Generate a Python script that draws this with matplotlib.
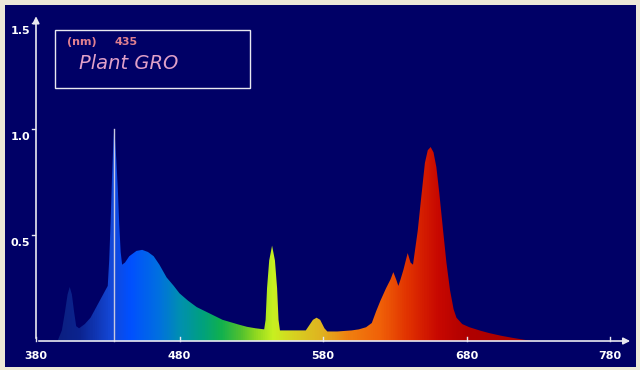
import numpy as np
import matplotlib.pyplot as plt
from matplotlib.colors import LinearSegmentedColormap

# spectrum (wavelength nm, relative intensity)
wavelength = [395, 398, 400, 402, 403.5, 405, 406.5, 408, 410, 414, 418, 422, 426, 430,
              431, 432, 433, 434, 434.5, 435, 436, 437, 438, 439, 440, 442, 445, 450, 454, 458, 462,
              466, 471, 476, 480, 486, 492, 498, 504, 510, 515, 521, 527, 533, 539,
              540, 541, 542.5, 544.5, 546.5, 548, 549, 550, 555, 560, 568, 570, 573,
              575.5, 578, 581, 583, 590, 600, 605, 610, 614, 617, 620, 624, 627, 629,
              631, 632.5, 634, 636, 639, 641, 642.7, 646, 648, 651, 653, 655, 657, 659,
              661, 663.7, 666, 668.5, 671, 673, 677, 682, 690, 696, 704, 712, 720, 726]
intensity = [0, 0.05, 0.13, 0.22, 0.255, 0.22, 0.14, 0.07, 0.06, 0.08, 0.11, 0.16, 0.21, 0.26,
             0.38, 0.56, 0.78, 0.95, 1.0, 0.96, 0.85, 0.72, 0.55, 0.42, 0.36, 0.37, 0.40, 0.425,
             0.43, 0.42, 0.40,
             0.36, 0.30, 0.26, 0.225, 0.19, 0.16, 0.14, 0.12, 0.10, 0.09, 0.078, 0.067, 0.06, 0.055,
             0.10, 0.25, 0.38, 0.45, 0.38, 0.25, 0.10, 0.05, 0.05, 0.05, 0.05, 0.07, 0.10,
             0.11, 0.10, 0.06, 0.045, 0.045, 0.05, 0.055, 0.065, 0.085, 0.14, 0.19, 0.25, 0.29, 0.325,
             0.29, 0.26, 0.29, 0.335, 0.415, 0.37, 0.36, 0.52, 0.65, 0.84, 0.90, 0.915, 0.89, 0.82,
             0.70, 0.52, 0.37, 0.24, 0.15, 0.11, 0.08, 0.065, 0.048, 0.037, 0.025, 0.015, 0.006, 0]

x_ticks = [380, 480, 580, 680, 780]
y_ticks = [0.5, 1.0, 1.5]
y_tick_labels = ['0.5', '1.0', '1.5']
marker_nm = 435
lamp_name = 'Plant GRO'

# colour of the fill by wavelength
spectrum_stops = [(380, '#0a1a70'), (410, '#0c2490'), (432, '#1448d8'), (445, '#0050ff'),
                  (465, '#0070e0'), (480, '#0090b0'), (495, '#00a080'), (508, '#10b050'),
                  (522, '#50c030'), (533, '#90d820'), (545, '#c8f020'), (560, '#d8d020'),
                  (580, '#e0b020'), (597, '#f08010'), (620, '#f06008'), (640, '#e03000'),
                  (660, '#c80800'), (680, '#b00000'), (780, '#a00000')]

navy = '#000066'
fig = plt.figure(figsize=(6.4, 3.7), dpi=100, facecolor='#ece9d8')
ax = fig.add_axes([5 / 640, 3 / 370, 631 / 640, 362 / 370])
ax.set_facecolor(navy)
for s in ax.spines.values():
    s.set_visible(False)
ax.set_xlim(358.4, 798.1)
ax.set_ylim(-0.1226, 1.585)
ax.set_xticks([])
ax.set_yticks([])

# gradient image clipped to the spectrum shape
lo, hi = spectrum_stops[0][0], spectrum_stops[-1][0]
cmap = LinearSegmentedColormap.from_list(
    'spec', [((w - lo) / (hi - lo), c) for w, c in spectrum_stops])
grad = np.linspace(0, 1, 800).reshape(1, -1)
poly = ax.fill_between(wavelength, intensity, 0, color='none', lw=0)
img = ax.imshow(grad, cmap=cmap, extent=(lo, hi, 0, 1.1), aspect='auto',
                interpolation='bilinear', zorder=1)
img.set_clip_path(poly.get_paths()[0], transform=ax.transData)

# marker line at the chosen wavelength
ax.plot([marker_nm - 0.5, marker_nm - 0.5], [0, max(intensity)],
        color='#c8c8e0', lw=1, zorder=3)

# axes with arrows
axis_col = '#e8e8f0'
ax.annotate('', xy=(796, 0), xytext=(380, 0),
            arrowprops=dict(arrowstyle='-|>', color=axis_col, lw=1.2, mutation_scale=10))
ax.annotate('', xy=(380, 1.545), xytext=(380, 0),
            arrowprops=dict(arrowstyle='-|>', color=axis_col, lw=1.2, mutation_scale=10))
for t in x_ticks:
    ax.plot([t, t], [0, 0.018], color=axis_col, lw=1, zorder=4)
    ax.text(t, -0.045, str(t), color='white', fontsize=8, fontweight='bold',
            ha='center', va='top', family='DejaVu Sans')
for t, lab in zip(y_ticks, y_tick_labels):
    ax.plot([377, 379.5], [t, t], color=axis_col, lw=1, zorder=4)
    ax.text(376, t - 0.04, lab, color='white', fontsize=8, fontweight='bold',
            ha='right', va='center', family='DejaVu Sans')

# legend box
ax.add_patch(plt.Rectangle((393.2, 1.195), 136, 0.274, fill=False,
                           edgecolor='#e8e8f0', lw=1, zorder=5))
ax.text(412, 1.41, '(nm)', color='#e08090', fontsize=8, fontweight='bold',
        ha='center', va='center')
ax.text(443, 1.41, str(marker_nm), color='#e08090', fontsize=8, fontweight='bold',
        ha='center', va='center')
ax.text(410, 1.31, lamp_name, color='#e0a0c8', fontsize=14, style='italic',
        ha='left', va='center', family='DejaVu Sans')

fig.savefig('out.png', dpi=100, facecolor=fig.get_facecolor())
